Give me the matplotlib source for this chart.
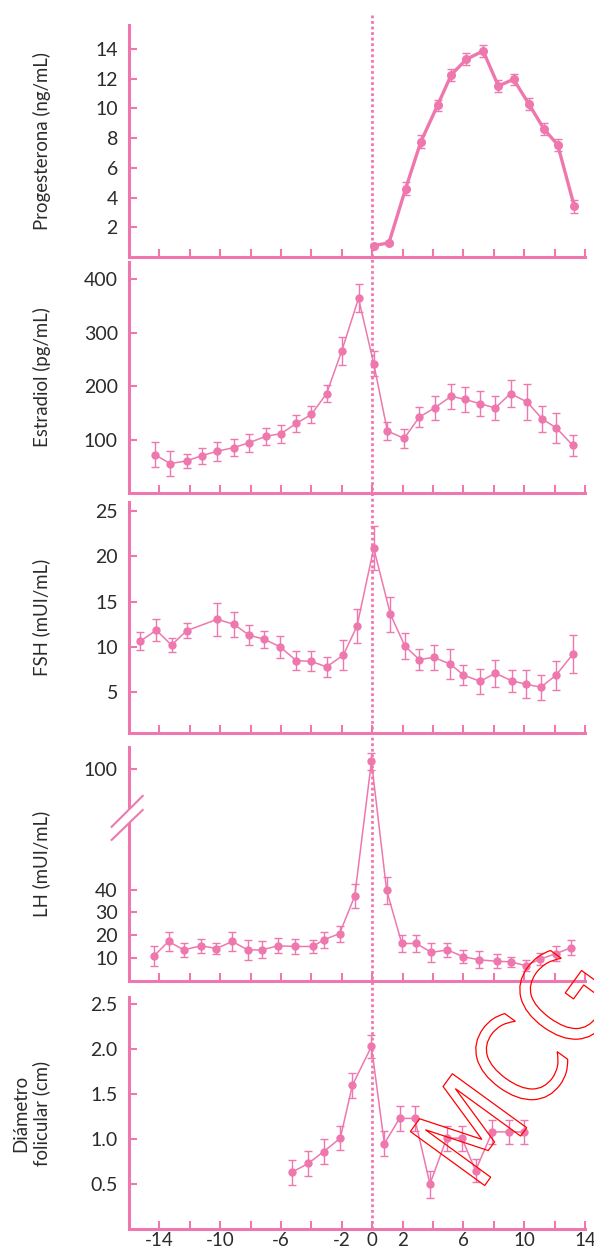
import numpy as np
import matplotlib
matplotlib.use("Agg")
import matplotlib.pyplot as plt
from matplotlib.transforms import Affine2D, blended_transform_factory
from matplotlib.lines import Line2D
from matplotlib.patches import Polygon, PathPatch
from matplotlib.textpath import TextPath
from matplotlib.font_manager import FontProperties
from matplotlib.ticker import FormatStrFormatter

# dias respecto al pico de LH
prog_day = [0.1, 1.1, 2.2, 3.2, 4.3, 5.2, 6.2, 7.3, 8.3, 9.3, 10.3, 11.3, 12.2, 13.3]
prog_val = [0.77, 0.95, 4.6, 7.75, 10.2, 12.25, 13.3, 13.85, 11.5, 11.95, 10.3, 8.6, 7.55, 3.4]
prog_err = [0.1, 0.1, 0.43, 0.42, 0.39, 0.41, 0.39, 0.4, 0.4, 0.38, 0.39, 0.38, 0.41, 0.43]

e2_day = [-14.3, -13.3, -12.2, -11.2, -10.2, -9.1, -8.1, -7.0, -6.0, -5.0, -4.0, -3.0, -2.0, -0.9,
          0.1, 1.0, 2.1, 3.1, 4.1, 5.2, 6.1, 7.1, 8.1, 9.1, 10.2, 11.2, 12.1, 13.2]
e2_val = [72, 55, 60, 70, 78, 85, 94, 106, 111, 130, 147, 186, 266, 364,
          242, 116, 102, 142, 159, 181, 175, 167, 159, 186, 170, 138, 122, 89]
e2_err = [23, 23, 13, 15, 18, 16, 17, 16, 17, 16, 16, 16, 26, 26,
          23, 16, 18, 19, 23, 23, 23, 23, 23, 26, 33, 24, 28, 19]

fsh_day = [-15.25, -14.2, -13.2, -12.2, -10.2, -9.1, -8.1, -7.1, -6.05, -5.0, -4.0, -3.0, -1.9, -1.0,
           0.1, 1.2, 2.15, 3.1, 4.05, 5.15, 6.0, 7.1, 8.1, 9.2, 10.1, 11.1, 12.1, 13.2]
fsh_val = [10.65, 11.85, 10.2, 11.8, 13.05, 12.5, 11.3, 10.85, 10.0, 8.5, 8.4, 7.8, 9.1, 12.3,
           20.9, 13.6, 10.1, 8.6, 8.85, 8.1, 6.9, 6.2, 7.1, 6.25, 5.9, 5.55, 6.9, 9.2]
fsh_err = [0.95, 1.2, 0.8, 0.8, 1.8, 1.4, 1.1, 0.95, 1.25, 1.1, 1.1, 1.1, 1.65, 1.85,
           2.4, 1.95, 1.4, 1.2, 1.4, 1.65, 1.1, 1.35, 1.5, 1.2, 1.5, 1.4, 1.6, 2.1]

lh_day = [-14.35, -13.4, -12.4, -11.25, -10.25, -9.2, -8.2, -7.25, -6.2, -5.1, -3.9, -3.2, -2.15, -1.15,
          -0.05, 0.95, 1.95, 2.9, 3.9, 4.95, 5.95, 7.0, 8.2, 9.1, 10.1, 11.05, 12.1, 13.1]
lh_val = [11.0, 17.3, 13.6, 15.4, 14.2, 17.3, 13.6, 13.6, 15.4, 15.1, 15.1, 18.0, 20.7, 37.1,
          105.0, 39.6, 16.4, 16.4, 12.5, 13.6, 10.7, 9.3, 8.6, 8.4, 6.7, 9.6, 12.0, 14.6]
lh_err = [4.3, 4.1, 3.1, 3.0, 2.5, 4.3, 4.5, 3.7, 3.3, 3.1, 3.0, 3.6, 3.5, 5.3,
          5.3, 5.9, 3.6, 3.6, 4.3, 3.0, 2.9, 3.8, 3.0, 2.3, 2.5, 2.7, 3.1, 3.3]

fol_day = [-5.3, -4.2, -3.2, -2.1, -1.3, -0.05, 0.8, 1.8, 2.8, 3.8, 4.9, 5.9, 6.8, 7.9, 9.0, 10.0]
fol_val = [0.63, 0.73, 0.86, 1.01, 1.6, 2.03, 0.95, 1.23, 1.23, 0.5, 1.01, 1.01, 0.65, 1.08, 1.08, 1.08]
fol_err = [0.14, 0.14, 0.14, 0.13, 0.14, 0.13, 0.14, 0.14, 0.14, 0.15, 0.14, 0.14, 0.13, 0.13, 0.13, 0.13]

x_ticks = list(range(-14, 15, 2))
x_labels = ["-14", "", "-10", "", "-6", "", "-2", "0", "2", "", "6", "", "10", "", "14"]

PINK = "#EE78AE"
TXT = "#2b2b2b"
plt.rcParams["font.family"] = ["Lato", "DejaVu Sans"]

W, H = 594, 1255
fig = plt.figure(figsize=(W / 100, H / 100), dpi=100)


def box(top, bottom, left=129, right=585):
    return [left / W, 1 - bottom / H, (right - left) / W, (bottom - top) / H]


panels = [(25, 257), (262, 493), (502, 733), (747, 981), (997, 1229)]
axes = [fig.add_axes(box(t, b)) for t, b in panels]


def style(ax, label):
    for s in ("top", "right"):
        ax.spines[s].set_visible(False)
    for s in ("left", "bottom"):
        ax.spines[s].set_color(PINK)
        ax.spines[s].set_linewidth(2.2)
    ax.tick_params(direction="in", color=PINK, length=6, width=1.5,
                   labelcolor=TXT, labelsize=14)
    ax.tick_params(axis="y", pad=8)
    ax.tick_params(axis="x", pad=2.5, labelsize=13.5)
    ax.set_xlim(-16, 14)
    ax.set_xticks(x_ticks)
    ax.set_xticklabels([])
    ax.set_ylabel(label, fontsize=13.4, color=TXT)
    ax.yaxis.set_label_coords(-0.172, 0.5)


def series(ax, x, y, e, lw=1.1, ms=5):
    ax.errorbar(x, y, yerr=e, color=PINK, marker="o", ms=ms, lw=lw,
                elinewidth=1.0, capsize=3, capthick=1.0, clip_on=False)


ax1, ax2, ax3, ax4, ax5 = axes

style(ax1, "Progesterona (ng/mL)")
series(ax1, prog_day, prog_val, prog_err, lw=2.4, ms=5.5)
ax1.set_ylim(0, 15.6)
ax1.set_yticks(range(2, 15, 2))

style(ax2, "Estradiol (pg/mL)")
series(ax2, e2_day, e2_val, e2_err)
ax2.set_ylim(0, 432)
ax2.set_yticks([100, 200, 300, 400])

style(ax3, "FSH (mUI/mL)")
series(ax3, fsh_day, fsh_val, fsh_err)
ax3.set_ylim(0.5, 26)
ax3.set_yticks([5, 10, 15, 20, 25])

# eje cortado para LH
B, C = 75.0, 0.7


def fwd(y):
    y = np.asarray(y, float)
    return np.where(y <= B, y, B + (y - B) * C)


def inv(y):
    y = np.asarray(y, float)
    return np.where(y <= B, y, B + (y - B) / C)


style(ax4, "LH (mUI/mL)")
ax4.set_yscale("function", functions=(fwd, inv))
series(ax4, lh_day, lh_val, lh_err)
ax4.set_ylim(0, 114)
ax4.set_yticks([10, 20, 30, 40, 100])
ax4.set_yticklabels(["10", "20", "30", "40", "100"])
ax4.yaxis.set_minor_locator(matplotlib.ticker.NullLocator())
ax4.add_patch(Polygon([(-0.038, 0.659), (0.030, 0.791), (0.030, 0.731), (-0.038, 0.603)],
                      closed=True, transform=ax4.transAxes, fc="white", ec="none",
                      clip_on=False, zorder=5))
for y0, y1 in [(0.659, 0.791), (0.603, 0.731)]:
    ax4.add_line(Line2D([-0.038, 0.030], [y0, y1], transform=ax4.transAxes,
                        color=PINK, lw=1.5, clip_on=False, zorder=6))

style(ax5, "Diámetro\nfolicular (cm)")
series(ax5, fol_day, fol_val, fol_err)
ax5.set_ylim(0, 2.58)
ax5.set_yticks([0.5, 1.0, 1.5, 2.0, 2.5])
ax5.yaxis.set_major_formatter(FormatStrFormatter("%.1f"))
ax5.set_xticklabels(x_labels)

# linea punteada del pico de LH
trans = blended_transform_factory(ax5.transData, fig.transFigure)
fig.add_artist(Line2D([0, 0], [1 - 15 / H, 1 - 1229 / H], transform=trans,
                      color=PINK, lw=2.0, ls=(0, (1, 1))))

# marca de agua
tp = TextPath((0, 0), "MCG", size=126, prop=FontProperties(family="DejaVu Sans"))
wm = Affine2D().scale(0.85, 1).rotate_deg(54).translate(478.5, 61)
fig.add_artist(PathPatch(tp, transform=wm, fc="none", ec="red", lw=0.9))

fig.savefig("out.png", dpi=100)
